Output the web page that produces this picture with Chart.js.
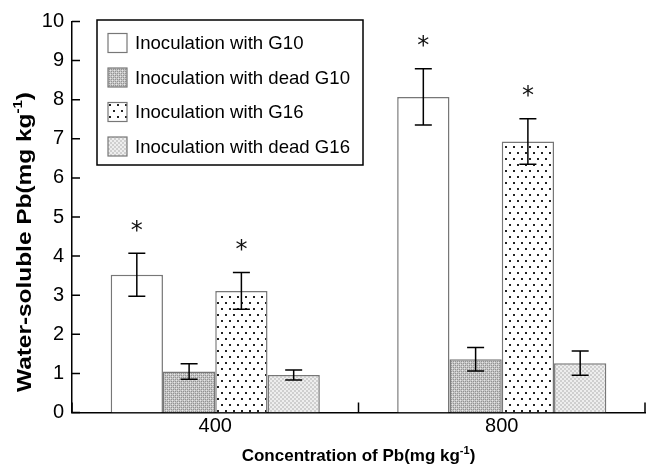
<!DOCTYPE html>
<html>
<head>
<meta charset="utf-8">
<script src="https://cdn.jsdelivr.net/npm/chart.js@4.4.1/dist/chart.umd.min.js"></script>
<style>
html,body{margin:0;padding:0;background:#fff;}
#wrap{width:646px;height:468px;}
</style>
</head>
<body>
<div id="wrap"><canvas id="c" width="646" height="468"></canvas></div>
<script>
// ---- data ----
const categories = ['400', '800'];
const seriesNames = ['Inoculation with G10', 'Inoculation with dead G10', 'Inoculation with G16', 'Inoculation with dead G16'];
const g10 = [3.52, 8.07];
const deadG10 = [1.05, 1.36];
const g16 = [3.11, 6.93];
const deadG16 = [0.96, 1.26];
const g10Err = [0.55, 0.72];
const deadG10Err = [0.2, 0.3];
const g16Err = [0.47, 0.58];
const deadG16Err = [0.13, 0.31];
const g10Sig = [true, true];
const deadG10Sig = [false, false];
const g16Sig = [true, true];
const deadG16Sig = [false, false];
const yTicks = [0, 1, 2, 3, 4, 5, 6, 7, 8, 9, 10];
const yTitle = ['Water-soluble Pb(mg kg', '-1', ')'];
const xTitle = ['Concentration of Pb(mg kg', '-1', ')'];

// ---- patterns ----
function tile(w, h, draw) {
  const c = document.createElement('canvas');
  c.width = w; c.height = h;
  const x = c.getContext('2d');
  draw(x);
  return document.getElementById('c').getContext('2d').createPattern(c, 'repeat');
}
const patWhite = '#ffffff';
const patDeadG10 = tile(4, 4, x => {
  x.fillStyle = '#c4c4c4'; x.fillRect(0, 0, 4, 4);
  x.fillStyle = '#e6e6e6'; x.fillRect(0, 0, 1, 1); x.fillRect(2, 2, 1, 1);
  x.fillStyle = '#939393';
  x.fillRect(1, 1, 1, 1); x.fillRect(3, 3, 1, 1); x.fillRect(1, 3, 1, 1); x.fillRect(3, 1, 1, 1);
});
const patG16 = tile(8, 12, x => {
  x.fillStyle = '#ffffff'; x.fillRect(0, 0, 8, 12);
  x.fillStyle = '#222222'; x.fillRect(1, 2, 2, 2); x.fillRect(5, 8, 2, 2);
});
const patDeadG16 = tile(4, 4, x => {
  x.fillStyle = '#eeeeee'; x.fillRect(0, 0, 4, 4);
  x.fillStyle = '#cfcfcf'; x.fillRect(0, 0, 2, 2); x.fillRect(2, 2, 2, 2);
});
const fills = [patWhite, patDeadG10, patG16, patDeadG16];
const values = [g10, deadG10, g16, deadG16];
const errs = [g10Err, deadG10Err, g16Err, deadG16Err];
const sigs = [g10Sig, deadG10Sig, g16Sig, deadG16Sig];

const FONT = '"Liberation Sans", Arial, sans-serif';

function measureSup(ctx, parts, size) {
  ctx.font = 'bold ' + size + 'px ' + FONT;
  const w0 = ctx.measureText(parts[0]).width;
  ctx.font = 'bold ' + Math.round(size * 0.62) + 'px ' + FONT;
  const w1 = ctx.measureText(parts[1]).width;
  ctx.font = 'bold ' + size + 'px ' + FONT;
  const w2 = ctx.measureText(parts[2]).width;
  return {w0, w1, w2, total: w0 + w1 + w2};
}
function renderSup(ctx, parts, size, x0, y0) {
  const m = measureSup(ctx, parts, size);
  ctx.textBaseline = 'alphabetic';
  ctx.textAlign = 'left';
  ctx.font = 'bold ' + size + 'px ' + FONT;
  ctx.fillText(parts[0], x0, y0);
  ctx.font = 'bold ' + Math.round(size * 0.62) + 'px ' + FONT;
  ctx.fillText(parts[1], x0 + m.w0, y0 - size * 0.42);
  ctx.font = 'bold ' + size + 'px ' + FONT;
  ctx.fillText(parts[2], x0 + m.w0 + m.w1, y0);
}

const decor = {
  id: 'decor',
  afterDatasetsDraw(chart) {
    const ctx = chart.ctx;
    const ys = chart.scales.y;
    ctx.save();
    chart.data.datasets.forEach((ds, di) => {
      const meta = chart.getDatasetMeta(di);
      meta.data.forEach((bar, i) => {
        const v = ds.data[i], e = errs[di][i];
        const yt = ys.getPixelForValue(v + e), yb = ys.getPixelForValue(v - e);
        ctx.strokeStyle = '#000'; ctx.lineWidth = 1.5;
        ctx.beginPath();
        ctx.moveTo(bar.x, yt); ctx.lineTo(bar.x, yb);
        ctx.moveTo(bar.x - 8.5, yt); ctx.lineTo(bar.x + 8.5, yt);
        ctx.moveTo(bar.x - 8.5, yb); ctx.lineTo(bar.x + 8.5, yb);
        ctx.stroke();
        if (sigs[di][i]) {
          ctx.fillStyle = '#111';
          ctx.font = '24px "DejaVu Sans", sans-serif';
          ctx.textAlign = 'center'; ctx.textBaseline = 'middle';
          ctx.fillText('*', bar.x, yt - 22);
        }
      });
    });
    ctx.restore();
  },
  afterDraw(chart) {
    const ctx = chart.ctx;
    const a = chart.chartArea;
    const ys = chart.scales.y, xs = chart.scales.x;
    ctx.save();
    ctx.strokeStyle = '#000'; ctx.lineWidth = 1.5;
    ctx.beginPath();
    yTicks.forEach(t => {
      const y = ys.getPixelForValue(t);
      ctx.moveTo(a.left, y); ctx.lineTo(a.left + 8, y);
    });
    const n = categories.length;
    for (let i = 0; i <= n; i++) {
      const x = xs.getPixelForValue(i - 0.5);
      ctx.moveTo(x, a.bottom); ctx.lineTo(x, a.bottom - 10);
    }
    ctx.stroke();
    // legend
    const lx = a.left + 25, ly = a.top - 1.5, lw = 266, lh = 145;
    ctx.fillStyle = '#fff';
    ctx.fillRect(lx, ly, lw, lh);
    ctx.strokeStyle = '#000'; ctx.lineWidth = 1.5;
    ctx.strokeRect(lx, ly, lw, lh);
    seriesNames.forEach((name, i) => {
      const cy = ly + 23 + i * 34.5;
      ctx.fillStyle = fills[i];
      ctx.fillRect(lx + 11, cy - 9.5, 19, 19);
      ctx.strokeStyle = '#777'; ctx.lineWidth = 1.2;
      ctx.strokeRect(lx + 11, cy - 9.5, 19, 19);
      ctx.fillStyle = '#000';
      ctx.font = '18.6px ' + FONT;
      ctx.textAlign = 'left'; ctx.textBaseline = 'middle';
      ctx.fillText(name, lx + 38, cy + 1);
    });
    // axis titles
    ctx.fillStyle = '#000';
    const mx = measureSup(ctx, xTitle, 17);
    renderSup(ctx, xTitle, 17, (a.left + a.right) / 2 - mx.total / 2, 461);
    ctx.save();
    ctx.translate(31, 242);
    ctx.rotate(-Math.PI / 2);
    const my = measureSup(ctx, yTitle, 21);
    const targetLen = 300;
    ctx.scale(targetLen / my.total, 1);
    renderSup(ctx, yTitle, 21, -my.total / 2, 0);
    ctx.restore();
    ctx.restore();
  }
};

new Chart(document.getElementById('c'), {
  type: 'bar',
  data: {
    labels: categories,
    datasets: seriesNames.map((name, i) => ({
      label: name,
      data: values[i],
      backgroundColor: fills[i],
      borderColor: '#777777',
      borderWidth: 1.5,
      borderSkipped: 'bottom'
    }))
  },
  options: {
    responsive: false,
    animation: false,
    devicePixelRatio: 1,
    layout: { padding: { top: 21.5, right: 1, left: 0, bottom: 0 } },
    datasets: { bar: { barPercentage: 1, categoryPercentage: 0.73 } },
    plugins: { legend: { display: false }, tooltip: { enabled: false } },
    scales: {
      x: {
        grid: { display: false, drawTicks: false },
        border: { display: true, color: '#000', width: 1.5 },
        ticks: { color: '#000', font: { size: 20, family: FONT }, padding: 2 },
        afterFit(s) { s.height = 55.5; }
      },
      y: {
        min: 0, max: 10,
        grid: { display: false, drawTicks: false },
        border: { display: true, color: '#000', width: 1.5 },
        ticks: { stepSize: 1, color: '#000', font: { size: 20, family: FONT }, padding: 8 },
        afterFit(s) { s.width = 72; }
      }
    }
  },
  plugins: [decor]
});
</script>
</body>
</html>
